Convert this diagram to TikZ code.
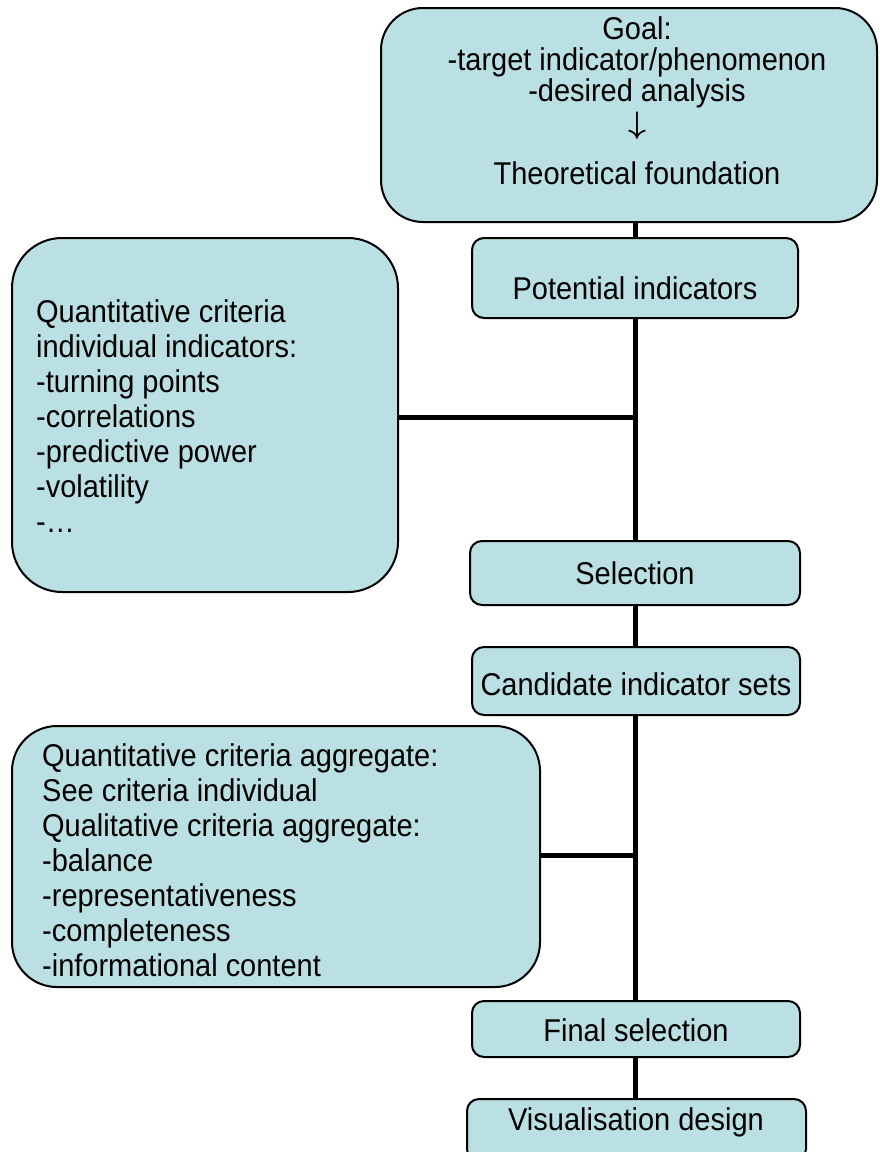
\documentclass[tikz,border=0pt]{standalone}
\usepackage{fontspec}
\usepackage{graphicx}
\setmainfont{Liberation Sans}[FakeStretch=0.92]
\definecolor{boxfill}{RGB}{186,224,227}
\begin{document}
\begin{tikzpicture}[x=1pt,y=-1pt,
  box/.style={draw=black,line width=2pt,fill=boxfill,rounded corners=12pt,inner sep=0pt},
  txt/.style={inner sep=0pt,font=\fontsize{31.5}{35}\selectfont,align=center},
  conn/.style={line width=5pt}]
\useasboundingbox (0,0) rectangle (879,1152);
\node[box,rounded corners=42pt,minimum width=496pt,minimum height=214pt] (goal) at (629,115) {};
\node[box,minimum width=326pt,minimum height=80pt] (pot) at (635,278) {};
\node[box,minimum width=330pt,minimum height=64pt] (sel) at (635,573) {};
\node[box,minimum width=328pt,minimum height=68pt] (cand) at (636,681) {};
\node[box,minimum width=328pt,minimum height=56pt] (fin) at (636,1029) {};
\node[box,minimum width=339pt,minimum height=62pt] (vis) at (636.5,1130) {};
\node[box,rounded corners=50pt,minimum width=386pt,minimum height=354pt] (qi) at (205,415) {};
\node[box,rounded corners=45pt,minimum width=528pt,minimum height=261pt] (qa) at (276,856.5) {};
\coordinate (j1) at (635,417);
\coordinate (j2) at (635,855);
\draw[conn] (goal.south -| j1) -- (pot.north -| j1);
\draw[conn] (pot.south -| j1) -- (sel.north -| j1);
\draw[conn] (sel.south -| j1) -- (cand.north -| j1);
\draw[conn] (cand.south -| j1) -- (fin.north -| j1);
\draw[conn] (fin.south -| j1) -- (vis.north -| j1);
\draw[conn] (qi.east |- j1) -- (j1);
\draw[conn] (qa.east |- j2) -- (j2);
% texts
\node[txt,font=\fontsize{31.5}{31}\selectfont] (goaltext) at (637,101) {Goal:\\-target indicator/phenomenon\\-desired analysis\\[1pt]\scalebox{1.25}{\boldmath$\downarrow$}\\[20pt]Theoretical foundation};
\node[txt] (pottext) at (635,288) {Potential indicators};
\node[txt] (seltext) at (635,573) {Selection};
\node[txt] (candtext) at (636,684) {Candidate indicator sets};
\node[txt] (fintext) at (636,1030) {Final selection};
\node[txt] (vistext) at (636,1122) {Visualisation design};
\node[txt,align=left,anchor=west] (qitext) at (36,416) {Quantitative criteria\\individual indicators:\\-turning points\\-correlations\\-predictive power\\-volatility\\-\dots};
\node[txt,align=left,anchor=west] (qatext) at (42,860) {Quantitative criteria aggregate:\\See criteria individual\\Qualitative criteria aggregate:\\-balance\\-representativeness\\-completeness\\-informational content};
\end{tikzpicture}
\end{document}
